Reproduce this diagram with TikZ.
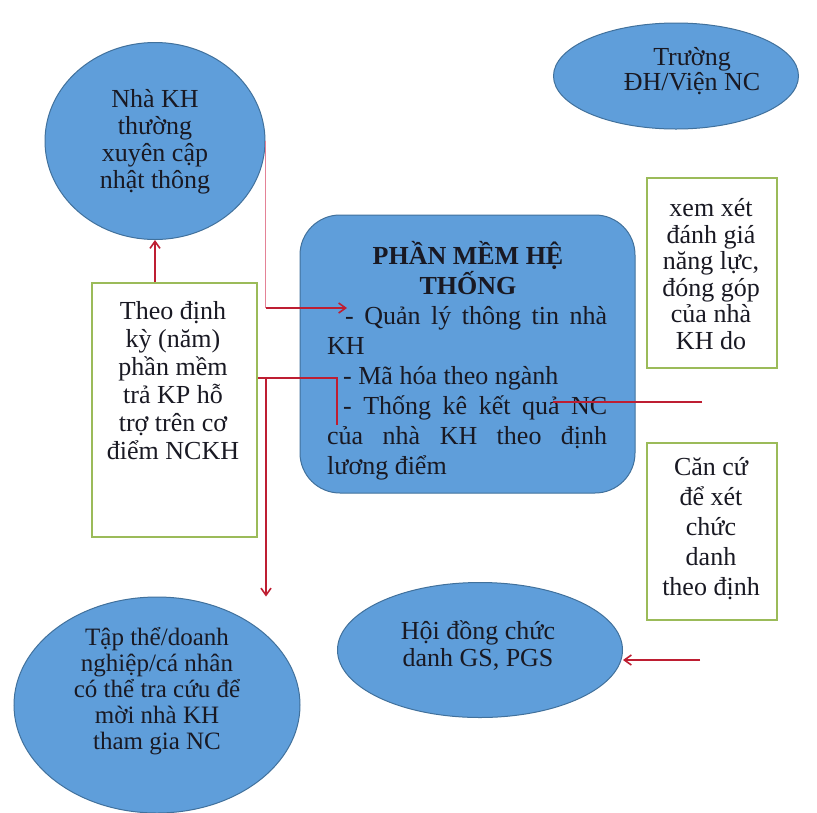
\documentclass[tikz,border=0pt]{standalone}
\usepackage{fontspec}
\setmainfont{Liberation Serif}
\usetikzlibrary{shapes.geometric,arrows.meta,calc}
\definecolor{bfill}{RGB}{95,158,218}
\definecolor{bdraw}{RGB}{65,113,156}
\definecolor{gline}{RGB}{155,187,89}
\definecolor{rline}{RGB}{190,30,50}
\definecolor{pline}{RGB}{228,130,150}
\definecolor{ink}{RGB}{25,25,35}
\begin{document}
\begin{tikzpicture}[x=1pt,y=-1pt,
  blueell/.style={ellipse, draw=bdraw, fill=bfill, line width=1pt, inner sep=0pt},
  greenbox/.style={rectangle, draw=gline, line width=1.5pt, fill=white, inner sep=0pt},
  txt/.style={align=center, font=\fontsize{26}{27}\selectfont, inner sep=0pt, text=ink},
  conn/.style={draw=rline, line width=1.6pt},
  tipend/.style={-{Straight Barb[length=7pt,width=10pt]}}]
\useasboundingbox (0,0) rectangle (817,812);
\fill[white] (0,0) rectangle (817,812);

% shapes
\node[blueell, minimum width=220pt, minimum height=197pt] (c1) at (155,141) {};
\node[txt] (c1t) at (155,142) {Nhà KH\\thường\\xuyên cập\\nhật thông};

\node[draw=bdraw, fill=bfill, rounded corners=40pt, line width=1pt,
      minimum width=335pt, minimum height=278pt, inner sep=0pt] (sw) at (467.5,354) {};
\node[txt, font=\bfseries\fontsize{26}{28}\selectfont] (swt) at (468,268) {PHẦN MỀM HỆ\\THỐNG};
\node[txt, align=left, anchor=north west, font=\fontsize{26}{30}\selectfont] (swb) at (327,306)
  {\hspace*{18pt}\makebox[262pt][s]{- Quản lý thông tin nhà}\\
   KH\\
   \hspace*{16pt}- Mã hóa theo ngành\\
   \hspace*{16pt}\makebox[264pt][s]{- Thống kê kết quả NC}\\
   \makebox[280pt][s]{của nhà KH theo định}\\
   lương điểm};

\node[blueell, minimum width=245pt, minimum height=106pt] (top) at (676,76) {};
\node[txt, font=\fontsize{26}{25}\selectfont] (topt) at (692,71) {Trường\\ĐH/Viện NC};

\node[greenbox, minimum width=165pt, minimum height=254pt] (gb1) at (174.5,410) {};
\node[txt, font=\fontsize{26}{28}\selectfont] (gb1t) at (173,381) {Theo định\\kỳ (năm)\\phần mềm\\trả KP hỗ\\trợ trên cơ\\điểm NCKH};

\node[greenbox, minimum width=130pt, minimum height=190pt] (gr1) at (712,273) {};
\node[txt, font=\fontsize{26}{26.6}\selectfont] (gr1t) at (711,274) {xem xét\\đánh giá\\năng lực,\\đóng góp\\của nhà\\KH do};

\node[greenbox, minimum width=130pt, minimum height=177pt] (gr2) at (712,531.5) {};
\node[txt, font=\fontsize{26}{30}\selectfont] (gr2t) at (711,529) {Căn cứ\\để xét\\chức\\danh\\theo định};

\node[blueell, minimum width=286pt, minimum height=216pt] (ell3) at (157,705) {};
\node[txt, font=\fontsize{25}{26}\selectfont] (ell3t) at (157,691) {Tập thể/doanh\\nghiệp/cá nhân\\có thể tra cứu để\\mời nhà KH\\tham gia NC};

\node[blueell, minimum width=285pt, minimum height=135pt] (hd) at (480,650) {};
\node[txt] (hdt) at (478,646) {Hội đồng chức\\danh GS, PGS};

% connectors
\coordinate (qtip) at (347,308);
\draw[pline, line width=1pt] (c1.east) -- (c1.east |- qtip);
\draw[conn, tipend] (c1.east |- qtip) -- (qtip);

\draw[conn, tipend] (c1.south |- gb1.north) -- (c1.south);

\coordinate (jr) at (337,378);
\coordinate (jd) at (337,425);
\draw[conn] (gb1.east |- jr) -- (jr) -- (jd);
\coordinate (jv) at (266,378);
\draw[conn, tipend] (jv) -- (jv |- ell3.north);

\coordinate (rf) at (702,402);
\coordinate (re) at (553,402);
\draw[conn] (rf) -- (re);

\coordinate (hf) at (700,660);
\draw[conn, tipend] (hf) -- (hf -| hd.east);
\end{tikzpicture}
\end{document}
